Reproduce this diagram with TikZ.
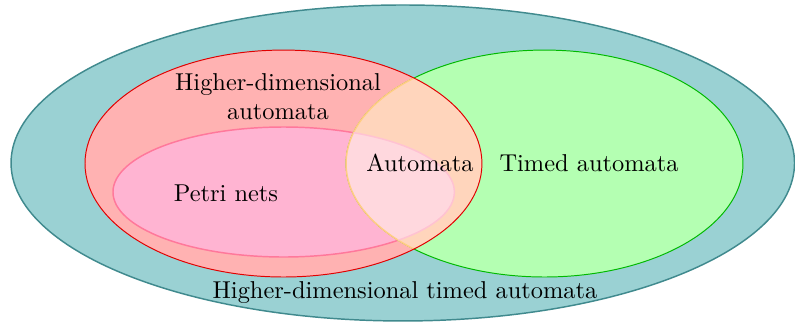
\documentclass[tikz,border=0pt]{standalone}
\usepackage{tikz}

\definecolor{hdtafill}{RGB}{154,209,211}
\definecolor{hdtaline}{RGB}{64,138,142}
\definecolor{hdafill}{RGB}{255,178,178}
\definecolor{hdaline}{RGB}{225,0,0}
\definecolor{tafill}{RGB}{180,255,178}
\definecolor{taline}{RGB}{0,185,0}
\definecolor{pnfill}{RGB}{255,180,210}
\definecolor{pnline}{RGB}{255,120,155}
\definecolor{autfill}{RGB}{255,213,188}
\definecolor{autpnfill}{RGB}{255,216,222}
\definecolor{autline}{RGB}{255,205,130}

\def\hdtapath{(5.800,2.290) ellipse [x radius=5.641, y radius=2.275]}
\def\hdapath{(4.082,2.282) ellipse [x radius=2.858, y radius=1.634]}
\def\tapath{(7.841,2.282) ellipse [x radius=2.858, y radius=1.634]}
\def\pnpath{(4.085,1.872) ellipse [x radius=2.458, y radius=0.936]}

\begin{document}
\begin{tikzpicture}[every node/.style={font=\normalsize}]
    \useasboundingbox (0,0) rectangle (11.448,4.637);
    % outer class
    \fill[hdtafill] \hdtapath;
    \draw[hdtaline,line width=0.6pt] \hdtapath;
    % hda and petri nets
    \fill[hdafill] \hdapath;
    \fill[pnfill] \pnpath;
    \draw[pnline,line width=0.6pt] \pnpath;
    % timed automata
    \fill[tafill] \tapath;
    \draw[taline] \tapath;
    % overlap = automata
    \begin{scope}
        \clip \hdapath;
        \fill[autfill] \tapath;
        \begin{scope}
            \clip \pnpath;
            \fill[autpnfill] \tapath;
        \end{scope}
        \draw[autline,line width=0.6pt] \tapath;
        \clip \tapath;
        \draw[pnline!45,line width=0.6pt] \pnpath;
    \end{scope}
    \draw[hdaline] \hdapath;
    % labels
    \node[align=center] (hda) at (4.003,3.240) {Higher-dimensional\\automata};
    \node (pn) at (3.254,1.858) {Petri nets};
    \node (aut) at (6.048,2.290) {Automata};
    \node (ta) at (8.482,2.290) {Timed automata};
    \node (hdta) at (5.832,0.418) {Higher-dimensional timed automata};
\end{tikzpicture}
\end{document}
